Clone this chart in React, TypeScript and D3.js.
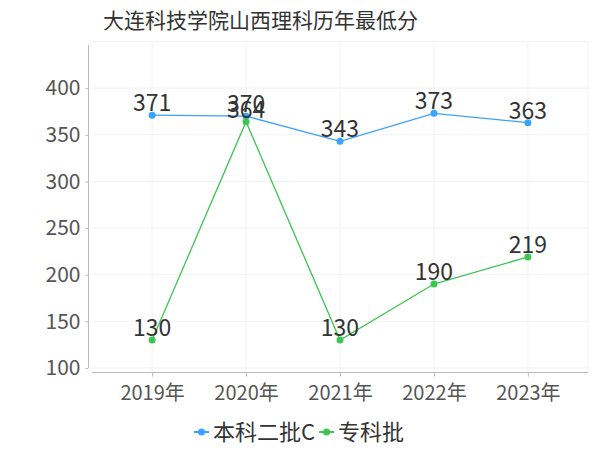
import { useEffect, useRef } from 'react'
import * as d3 from 'd3'

const years = ['2019年', '2020年', '2021年', '2022年', '2023年']
const benke = [371, 370, 343, 373, 363]
const zhuanke = [130, 364, 130, 190, 219]
const yTicks = [100, 150, 200, 250, 300, 350, 400]

const seriesList = [
  { name: '本科二批C', values: benke, color: '#3ba2ff' },
  { name: '专科批', values: zhuanke, color: '#3ec452' }
]

const W = 600
const H = 450
const FONT = '"Noto Sans CJK SC", "DejaVu Sans", sans-serif'

export default function App() {
  const svgRef = useRef<SVGSVGElement>(null)

  useEffect(() => {
    if (!svgRef.current) return
    const svg = d3.select(svgRef.current)
    svg.selectAll('*').remove()

    const x = d3.scalePoint<string>().domain(years).range([92, 588]).padding(0.64)
    const y = d3.scaleLinear().domain([100, 450]).range([368, 41.5])

    // title
    svg.append('text')
      .attr('x', 103)
      .attr('y', 28)
      .style('font-family', FONT)
      .style('font-size', '21px')
      .style('fill', '#333')
      .text('大连科技学院山西理科历年最低分')

    // grid
    const grid = svg.append('g')
    grid.selectAll('line.h')
      .data([...yTicks, 450])
      .enter()
      .append('line')
      .attr('x1', 92).attr('x2', 588)
      .attr('y1', d => y(d)).attr('y2', d => y(d))
      .attr('stroke', '#f2f2f2')
    grid.selectAll('line.v')
      .data(years)
      .enter()
      .append('line')
      .attr('x1', d => x(d)!).attr('x2', d => x(d)!)
      .attr('y1', y(450)).attr('y2', 372)
      .attr('stroke', '#f2f2f2')
    grid.append('line')
      .attr('x1', 588).attr('x2', 588)
      .attr('y1', y(450)).attr('y2', 372)
      .attr('stroke', '#f2f2f2')

    // y axis
    const yAxis = svg.append('g')
      .attr('transform', 'translate(88.5,0)')
      .call(d3.axisLeft(y).tickValues(yTicks).tickSize(3).tickPadding(5))
    yAxis.select('.domain').attr('stroke', '#bbb').attr('d', `M0,${y(100)}V45`)
    yAxis.selectAll('.tick line').attr('stroke', '#bbb')
    yAxis.selectAll('.tick text')
      .style('font-family', FONT)
      .style('font-size', '21px')
      .style('fill', '#555')

    // x axis
    const xAxis = svg.append('g')
      .attr('transform', 'translate(0,372.5)')
      .call(d3.axisBottom(x).tickSize(4).tickPadding(9))
    xAxis.select('.domain').attr('stroke', '#bbb').attr('d', 'M92,0H588')
    xAxis.selectAll('.tick line').attr('stroke', '#bbb')
    xAxis.selectAll('.tick text')
      .style('font-family', FONT)
      .style('font-size', '20px')
      .style('fill', '#555')

    // series
    const line = d3.line<number>()
      .x((_, i) => x(years[i])!)
      .y(d => y(d))

    seriesList.forEach(s => {
      svg.append('path')
        .datum(s.values)
        .attr('d', line)
        .attr('fill', 'none')
        .attr('stroke', s.color)
        .attr('stroke-width', 1.3)
      svg.append('g').selectAll('circle')
        .data(s.values)
        .enter()
        .append('circle')
        .attr('cx', (_, i) => x(years[i])!)
        .attr('cy', d => y(d))
        .attr('r', 3.5)
        .attr('fill', s.color)
    })

    seriesList.forEach(s => {
      svg.append('g').selectAll('text')
        .data(s.values)
        .enter()
        .append('text')
        .attr('x', (_, i) => x(years[i])!)
        .attr('y', d => y(d) - 4)
        .attr('text-anchor', 'middle')
        .style('font-family', FONT)
        .style('font-size', '23px')
        .style('fill', '#333')
        .text(d => d)
    })

    // legend
    const legend = svg.append('g').attr('transform', 'translate(0,432)')
    let lx = 194
    seriesList.forEach(s => {
      const g = legend.append('g').attr('transform', `translate(${lx},0)`)
      g.append('line').attr('x1', 0).attr('x2', 15).attr('stroke', s.color).attr('stroke-width', 2)
      g.append('circle').attr('cx', 7.5).attr('r', 3.5).attr('fill', s.color)
      const t = g.append('text')
        .attr('x', 19)
        .attr('y', 8)
        .style('font-family', FONT)
        .style('font-size', '22px')
        .style('fill', '#333')
        .text(s.name)
      const w = (t.node() as SVGTextElement).getComputedTextLength()
      lx += 19 + w + 4
    })
  }, [])

  return (
    <svg
      ref={svgRef}
      width={W}
      height={H}
      style={{ position: 'absolute', left: 0, top: 0, background: '#fff' }}
    />
  )
}
